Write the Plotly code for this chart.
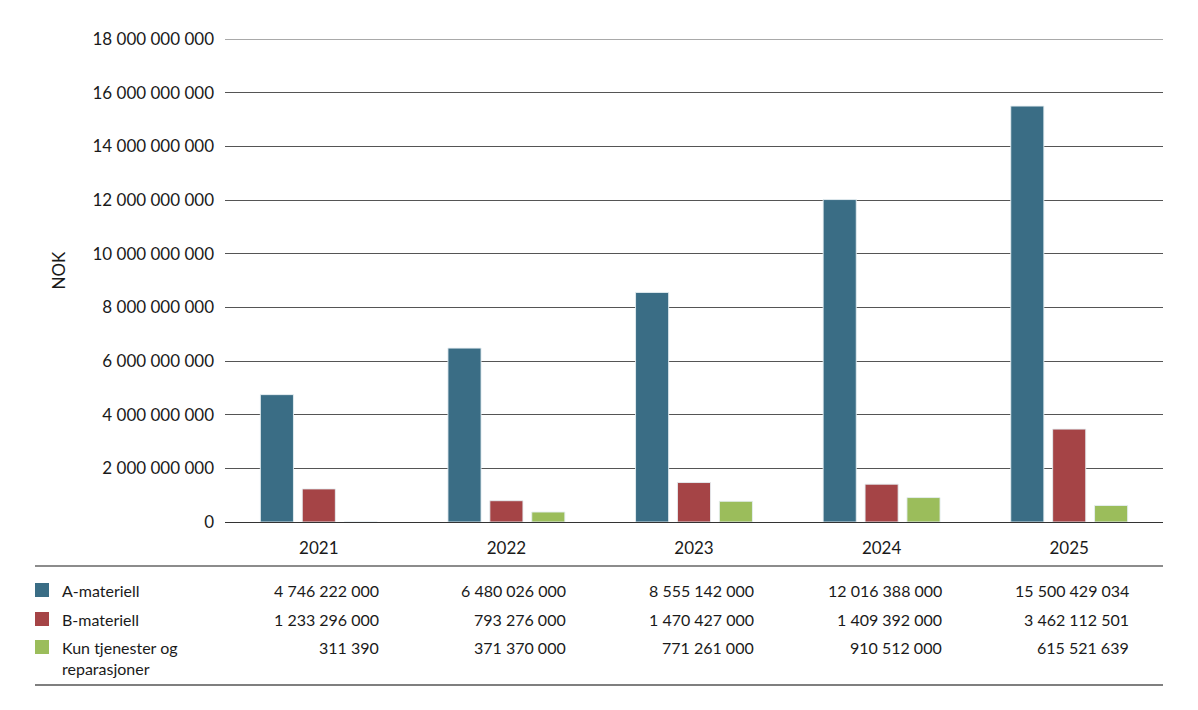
import plotly.graph_objects as go

years = ["2021", "2022", "2023", "2024", "2025"]
series_names = ["A-materiell", "B-materiell", "Kun tjenester og<br>reparasjoner"]
a_materiell = [4746222000, 6480026000, 8555142000, 12016388000, 15500429034]
b_materiell = [1233296000, 793276000, 1470427000, 1409392000, 3462112501]
kun_tjenester = [311390, 371370000, 771261000, 910512000, 615521639]
colors = ["#3a6d85", "#a54446", "#9bbd5b"]
y_ticks = list(range(0, 18000000001, 2000000000))
y_max = 18000000000

W, H = 1198, 710
L, R, T, B = 225, 35, 39, 188
pw, ph = W - L - R, H - T - B
FONT = "Lato"

def px_x(x):
    return (x - L) / pw

def px_y(y):
    return (H - B - y) / ph

def fmt(v):
    return f"{v:,}".replace(",", " ")

fig = go.Figure()
all_series = [a_materiell, b_materiell, kun_tjenester]
for name, vals, c in zip(series_names, all_series, colors):
    fig.add_trace(go.Bar(x=years, y=vals, name=name, marker=dict(color=c, line=dict(color="rgba(230,238,242,0.9)", width=1)),
                         showlegend=False))

ann = []
shapes = []
# top gridline at the axis maximum
shapes.append(dict(type="line", xref="paper", yref="y", x0=0, x1=1, y0=y_max, y1=y_max,
                   line=dict(color="#555555", width=1), layer="below"))
ann.append(dict(text="NOK", xref="paper", yref="paper", x=px_x(45), y=px_y(270), showarrow=False,
                textangle=-90, font=dict(size=17, color="#1a1a1a", family=FONT)))
shapes.append(dict(type="line", xref="paper", yref="paper", x0=px_x(35), x1=1, y0=px_y(566), y1=px_y(566),
                   line=dict(color="#8c8c8c", width=2)))
shapes.append(dict(type="line", xref="paper", yref="paper", x0=px_x(35), x1=1, y0=px_y(685), y1=px_y(685),
                   line=dict(color="#555555", width=1.5)))
row_y = [590, 619, 647]
for i, (name, vals, c) in enumerate(zip(series_names, all_series, colors)):
    yc = row_y[i]
    shapes.append(dict(type="rect", xref="paper", yref="paper", x0=px_x(35), x1=px_x(49),
                       y0=px_y(yc + 7), y1=px_y(yc - 7), fillcolor=c, line=dict(width=0)))
    ann.append(dict(text=name, xref="paper", yref="paper", x=px_x(60), y=px_y(yc - 11), xanchor="left",
                    yanchor="top", align="left", showarrow=False,
                    font=dict(size=16, color="#1a1a1a", family=FONT)))
    for j, v in enumerate(vals):
        ann.append(dict(text=fmt(v), xref="x", yref="paper", x=j + 0.33, y=px_y(yc), xanchor="right",
                        yanchor="middle", showarrow=False, font=dict(size=16, color="#1a1a1a", family=FONT)))

fig.update_layout(
    width=W, height=H,
    margin=dict(l=L, r=R, t=T, b=B, pad=0),
    paper_bgcolor="white", plot_bgcolor="white",
    separators=", ",
    barmode="group", bargap=0.33, bargroupgap=0.21,
    font=dict(family=FONT, size=17, color="#1a1a1a"),
    annotations=ann, shapes=shapes,
)
fig.update_xaxes(showgrid=False, showline=True, linecolor="#333333", linewidth=1.2, ticks="",
                 ticklabelstandoff=10, tickfont=dict(size=17, family=FONT, color="#1a1a1a"), range=[-0.5, 4.5])
fig.update_yaxes(range=[0, y_max], tickvals=y_ticks, tickformat=",d", showgrid=True, gridcolor="#555555",
                 gridwidth=1, zeroline=False, showline=False, ticks="", ticklabelstandoff=10,
                 tickfont=dict(size=17, family=FONT, color="#1a1a1a"))

fig.write_html("out.html")
